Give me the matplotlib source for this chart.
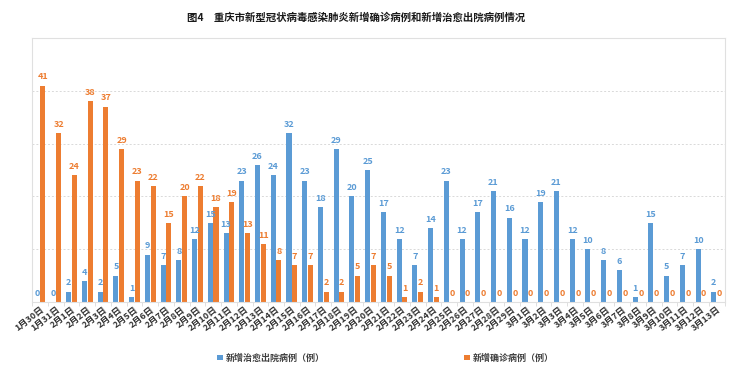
import numpy as np
import matplotlib.pyplot as plt

plt.rcParams['font.family'] = ['Noto Sans CJK SC', 'DejaVu Sans']

# 日期
dates = ['1月30日', '1月31日'] + [f'2月{d}日' for d in range(1, 30)] + [f'3月{d}日' for d in range(1, 14)]

# 新增治愈出院病例
cured = [0, 0, 2, 4, 2, 5, 1, 9, 7, 8,
         12, 15, 13, 23, 26, 24, 32, 23, 18, 29,
         20, 25, 17, 12, 7, 14, 23, 12, 17, 21,
         16, 12, 19, 21, 12, 10, 8, 6, 1, 15,
         5, 7, 10, 2]

# 新增确诊病例
confirmed = [41, 32, 24, 38, 37, 29, 23, 22, 15, 20,
             22, 18, 19, 13, 11, 8, 7, 7, 2, 2,
             5, 7, 5, 1, 2, 1, 0, 0, 0, 0,
             0, 0, 0, 0, 0, 0, 0, 0, 0, 0,
             0, 0, 0, 0]

blue = '#5B9BD5'
orange = '#ED7D31'

fig = plt.figure(figsize=(7.5, 3.73), dpi=100)
ax = fig.add_axes([0.043, 0.19, 0.923, 0.708])

x = np.arange(len(dates))
w = 0.32
b1 = ax.bar(x - w / 2 - 0.02, cured, w, color=blue, label='新增治愈出院病例（例）')
b2 = ax.bar(x + w / 2 + 0.02, confirmed, w, color=orange, label='新增确诊病例（例）')

for xi, v in zip(x, cured):
    ax.text(xi - w / 2 - 0.02, v + 0.8, str(v), ha='center', va='bottom',
            fontsize=6.5, color=blue, fontweight='bold')
for xi, v in zip(x, confirmed):
    ax.text(xi + w / 2 + 0.02, v + 0.8, str(v), ha='center', va='bottom',
            fontsize=6.5, color=orange, fontweight='bold')

ax.set_xlim(-0.5, len(dates) - 0.5)
ax.set_ylim(0, 50)
ax.set_yticks([10, 20, 30, 40])
ax.set_yticklabels([])
ax.tick_params(axis='y', length=0)
ax.grid(axis='y', linestyle=(0, (2, 2)), color='#d9d9d9', linewidth=0.7)
ax.set_axisbelow(True)

ax.set_xticks(x)
ax.set_xticklabels(dates, rotation=38, ha='right', rotation_mode='anchor',
                   fontsize=6.5, color='#333333', fontweight='bold')
ax.tick_params(axis='x', length=0, pad=2)
ax.set_xticks(np.arange(-0.5, len(dates), 1), minor=True)
ax.tick_params(axis='x', which='minor', length=3, color='#d9d9d9')

for s in ax.spines.values():
    s.set_color('#e0e0e0')
    s.set_linewidth(0.8)

fig.text(0.475, 0.952, '图4　重庆市新型冠状病毒感染肺炎新增确诊病例和新增治愈出院病例情况',
         ha='center', va='center', fontsize=7.5, fontweight='bold', color='#1a1a1a')

fig.legend(handles=[b1, b2], loc='center', bbox_to_anchor=(0.514, 0.04), ncol=2,
           frameon=False, fontsize=6.5, handlelength=0.6, handleheight=0.6,
           columnspacing=15.5, handletextpad=0.3)
for t in fig.legends[0].get_texts():
    t.set_color('#404040')
    t.set_fontweight('bold')

fig.savefig('out.png', dpi=100)
